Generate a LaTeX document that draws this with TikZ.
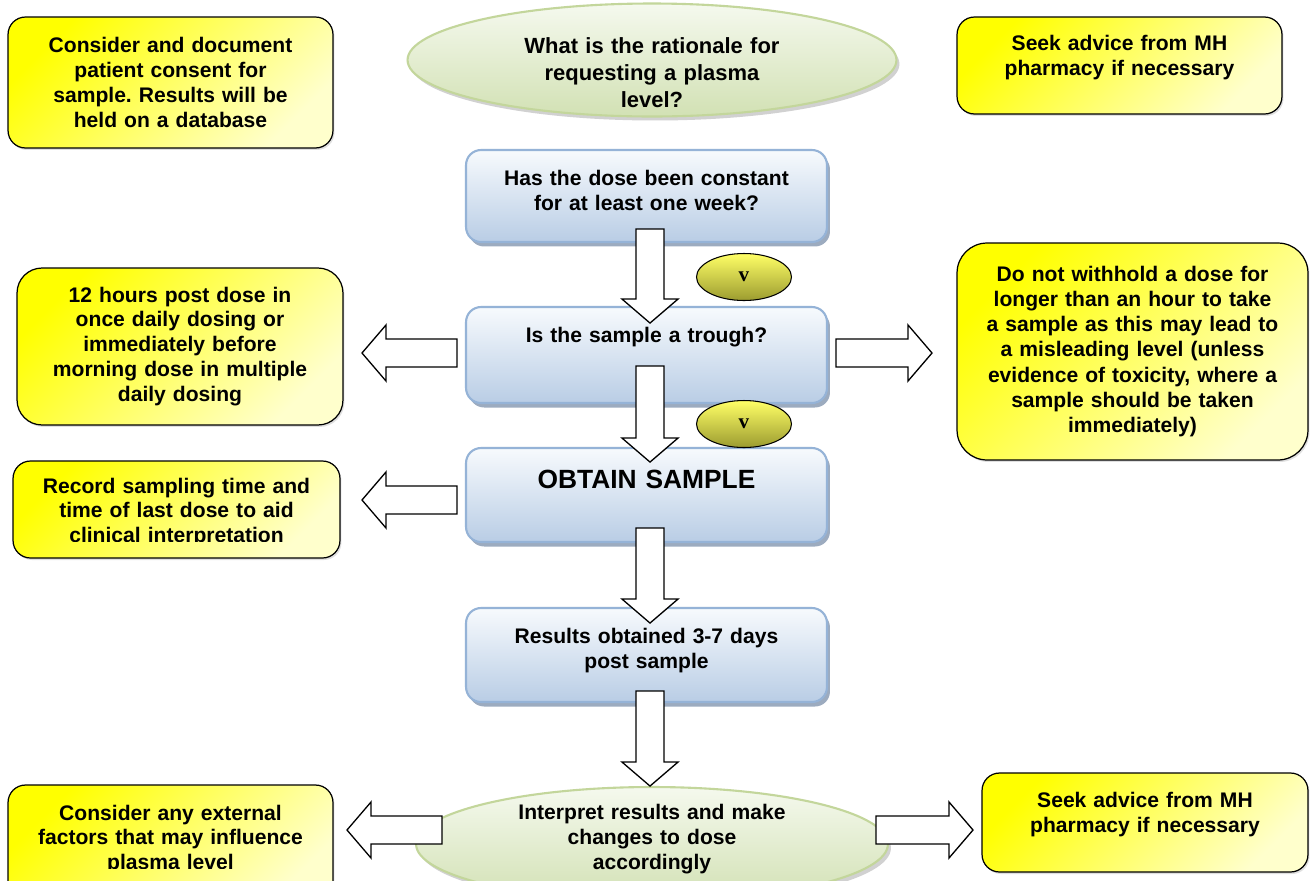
\documentclass[tikz,border=0pt]{standalone}
\usepackage{fontspec}
\setmainfont{Liberation Sans}
\newfontfamily\markfont{Liberation Serif}
\usetikzlibrary{shapes.geometric,shadows,calc}
\frenchspacing

\definecolor{paleyellow}{HTML}{FFFFCC}
\definecolor{boxblue}{HTML}{95B3D7}
\definecolor{bluetop}{HTML}{F7FAFD}
\definecolor{bluebottom}{HTML}{B9CDE5}
\definecolor{bluegrey}{HTML}{8496B0}
\definecolor{ovalgreen}{HTML}{C3D69B}
\definecolor{greentop}{HTML}{F5F9EE}
\definecolor{greenbottom}{HTML}{D2E1B4}
\definecolor{marktop}{HTML}{FFFF66}
\definecolor{markbottom}{HTML}{9C9C30}

\newcommand{\notefont}{\bfseries\fontsize{12}{14.2}\selectfont}
\newcommand{\padbot}[1]{\rule[-#1]{0pt}{#1}}
% block arrow: #1 tail point, #2 direction, #3 length (px)
\newcommand{\blockarrow}[3]{%
  \draw[fatarrow, shift={(#1)}, rotate=#2] (0,-14) -- ({#3-24},-14) -- ({#3-24},-28)
    -- (#3,0) -- ({#3-24},28) -- ({#3-24},14) -- (0,14) -- cycle;}

\begin{document}
\begin{tikzpicture}[
    x=0.02cm, y=-0.02cm,
    notebox/.style={rectangle, rounded corners=0.35cm, draw=black, line width=0.7pt,
      top color=yellow, bottom color=paleyellow, shading angle=45,
      drop shadow={shadow xshift=0.03cm, shadow yshift=-0.04cm, opacity=0.25},
      text width=6.1cm, align=center, inner sep=2pt, font=\notefont},
    notetext/.style={text width=6.1cm, align=center, inner sep=0pt, font=\notefont},
    stepbox/.style={rectangle, rounded corners=0.3cm, draw=boxblue, line width=1.2pt,
      top color=bluetop, bottom color=bluebottom,
      drop shadow={shadow xshift=0.06cm, shadow yshift=-0.09cm, fill=bluegrey, opacity=0.8},
      minimum width=7.22cm, text width=7cm, align=center, inner sep=2pt, font=\notefont},
    ovalbox/.style={ellipse, draw=ovalgreen, line width=1.2pt,
      top color=greentop, bottom color=greenbottom,
      drop shadow={shadow xshift=0.06cm, shadow yshift=-0.08cm, fill=black!40, opacity=0.45}},
    ovaltext/.style={text width=7cm, align=center, inner sep=0pt},
    yesmark/.style={ellipse, draw=black, line width=0.6pt, top color=marktop, bottom color=markbottom,
      minimum width=1.9cm, minimum height=0.94cm, inner sep=0pt,
      font=\markfont\bfseries\fontsize{12}{14}\selectfont},
    fatarrow/.style={draw=black, fill=white, line width=0.75pt, line join=miter}
]
    \useasboundingbox (0,0) rectangle (1311,880);
    \clip (0,0) rectangle (1311,880);
    \fill[white] (0,0) rectangle (1311,880);

    % Side notes
    \node[notebox, minimum width=6.5cm, minimum height=2.62cm] (consent) at (170.5,82.5)
      {Consider and document\\patient consent for\\sample. Results will be\\held on a database};
    \node[notebox, minimum width=6.5cm, minimum height=1.94cm] (advice) at (1119.5,65.5)
      {Seek advice from MH\\pharmacy if necessary\padbot{0.4cm}};
    \node[notebox, rounded corners=0.5cm, minimum width=6.52cm, minimum height=3.14cm] (timing) at (180,346.5)
      {12 hours post dose in\\once daily dosing or\\immediately before\\morning dose in multiple\\daily dosing};
    \node[notebox, rounded corners=0.6cm, text width=6.7cm, minimum width=7.02cm, minimum height=4.34cm,
      font=\bfseries\fontsize{12}{14.4}\selectfont] (withhold) at (1132.5,351.5)
      {Do not withhold a dose for\\longer than an hour to take\\a sample as this may lead to\\a misleading level (unless\\evidence of toxicity, where a\\sample should be taken\\immediately)};
    \node[notebox, minimum width=6.54cm, minimum height=1.94cm] (record) at (176.5,509.5) {};
    \node[notebox, minimum width=6.5cm, minimum height=2.4cm] (external) at (170.5,845) {};
    \node[notebox, minimum width=6.52cm, minimum height=1.98cm] (advicetwo) at (1145,822.5)
      {Seek advice from MH\\pharmacy if necessary\padbot{0.4cm}};
    \begin{scope}
      \clip (0,0) rectangle (1311,541);
      \node[notetext] (recordtext) at (record.center) [yshift=-0.06cm]
        {Record sampling time and\\time of last dose to aid\\clinical interpretation};
    \end{scope}
    \begin{scope}
      \clip (0,0) rectangle (1311,868);
      \node[notetext] (externaltext) at (170.5,839.5)
        {Consider any external\\factors that may influence\\plasma level};
    \end{scope}

    % Main steps
    \node[ovalbox, minimum width=9.78cm, minimum height=2.26cm] (rationale) at (652,60) {};
    \node[ovaltext, font=\bfseries\fontsize{12.5}{15.3}\selectfont] (rationaletext) at (652,72.5)
      {What is the rationale for\\requesting a plasma\\level?};
    \node[stepbox, minimum height=1.84cm] (dose) at (646.5,196)
      {Has the dose been constant\\for at least one week?\padbot{0.24cm}};
    \node[stepbox, minimum height=1.92cm] (trough) at (646.5,355)
      {Is the sample a trough?\padbot{0.82cm}};
    \node[stepbox, minimum height=1.88cm, font=\bfseries\fontsize{15}{18}\selectfont] (sample) at (646.5,495)
      {OBTAIN SAMPLE\padbot{0.62cm}};
    \node[stepbox, minimum height=1.88cm] (results) at (646.5,655)
      {Results obtained 3-7 days\\post sample\padbot{0.26cm}};
    \node[ovalbox, minimum width=9.44cm, minimum height=2.28cm] (interpret) at (652,844) {};
    \node[ovaltext, font=\bfseries\fontsize{12}{14}\selectfont] (interprettext) at (652,839)
      {Interpret results and make\\changes to dose\\accordingly};

    % Yes marks
    \node[yesmark] (yesone) at (744,277) {v};
    \node[yesmark] (yestwo) at (744,424) {v};

    % Flow
    \blockarrow{$(dose.south)+(3.5,-14)$}{-90}{94}
    \blockarrow{$(trough.south)+(3.5,-38)$}{-90}{96}
    \blockarrow{$(sample.south)+(3.5,-15)$}{-90}{95}
    \blockarrow{$(results.south)+(3.5,-12)$}{-90}{95}

    % Side flow
    \blockarrow{$(trough.west)+(-8,-2)$}{180}{95}
    \blockarrow{$(trough.east)+(8,-2)$}{0}{96}
    \blockarrow{$(sample.west)+(-8,5)$}{180}{95}
    \blockarrow{$(interpret.west)+(27,-14)$}{180}{95}
    \blockarrow{$(interpret.east)+(-13,-14)$}{0}{97}
\end{tikzpicture}
\end{document}
